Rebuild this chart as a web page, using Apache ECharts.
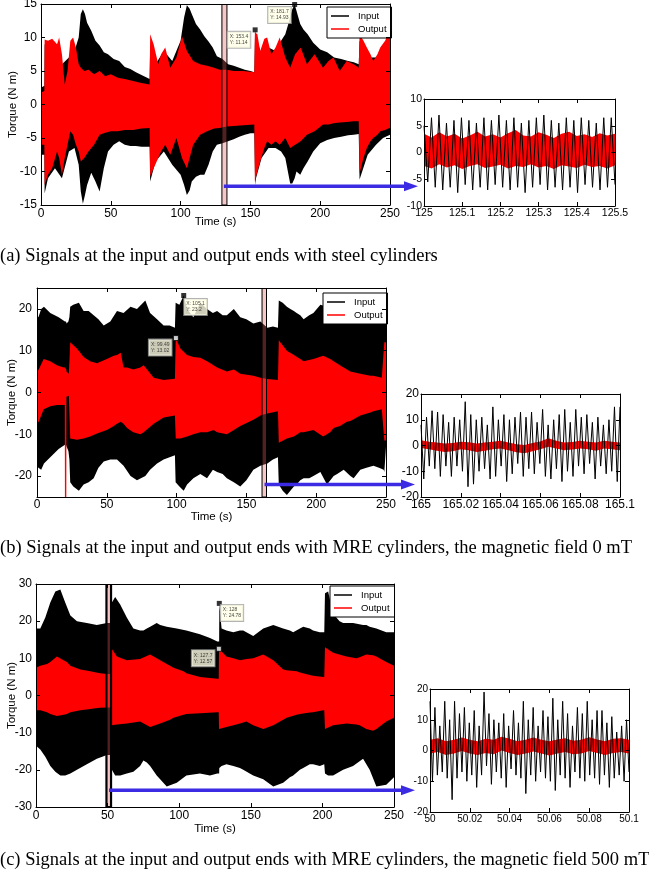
<!DOCTYPE html>
<html>
<head>
<meta charset="utf-8">
<script src="https://cdn.jsdelivr.net/npm/echarts@6/dist/echarts.min.js"></script>
<style>
html,body{margin:0;padding:0;background:#fff}
#main{width:649px;height:872px}
</style>
</head>
<body>
<div id="main"></div>
<script>
// ---- (a) steel cylinders : envelopes of the dense signals ----
const aInT  = [0,2.4,2.6,5,10,15,20,24,27,28.5,30,31.5,33,36,39,42,45,48,52,56,60,64,68,72,76,77.8,78.2,82,88,94,100,102.5,104.5,106.5,108,111,114,117,120,123,126,130,134,138,142,146,150,152.8,153.4,154,158,163,168,172,175,178.5,180,181.7,183,185.7,188,191,195,200,205,210,215,220,224,227.6,228.2,234,240,245,250];
const aInHi = [2.5,2.8,9,8.5,8.5,6,7,8,10,13.5,14.2,13.5,12.2,11,9.5,8.8,7.8,7.5,6.8,6.5,5.6,5.3,4.8,4.4,4,3.8,9,6,8,6.5,9.5,13,14.8,14.3,13.5,12,11.2,10.2,9.4,8.5,7.2,6.8,6,5.8,5.5,5.2,5,4.8,11.14,10,7.5,8.5,8,9.5,10.5,13,14.2,14.93,14,12,11.2,10.5,9.2,8.2,7.8,7,6.8,6.5,6.3,6,9.5,7,7,8,9];
const aInLo = [-7.5,-7.5,-13.3,-11,-9.5,-11,-7,-6.5,-9,-13,-14.8,-13.5,-12,-10.2,-11.5,-13,-9.5,-7,-6,-5.5,-6,-6.2,-6.2,-6.3,-6.3,-6.3,-11.5,-8.5,-7,-9,-10.5,-12,-13.5,-12.8,-11.5,-10.8,-10.5,-10.5,-9,-7,-6,-5.8,-5.5,-5.2,-4.8,-4.5,-4.3,-4.3,-12,-11,-8,-6.5,-6.5,-7,-8,-11.8,-11.8,-11,-10,-10.5,-9.5,-8.5,-7,-5.8,-5.3,-5,-4.8,-4.6,-4.5,-4.4,-11.2,-7.5,-6,-5,-4.5];
const aOutT  = [0,2.4,2.6,5,8,11.5,13,15,17,19,21,23,25,27,28.5,31,34,38,42,46,50,55,60,66,72,77.8,78.2,80.7,84,86,89,92.6,97,101,104.5,109,114,119,124,128,133,138,145,152.8,153.2,155,157,160,162,165,168,171,175,178.5,182,186,190.5,196,202,206,209.5,214,219,224,227.6,228.2,231,233.4,236,238,241,243,246.5,249.6,250];
const aOutHi = [1.8,2,9.7,9.5,9.8,9,10,7.5,3,5,9.5,10,8.5,6,5.5,5,5.2,4.5,5,4.2,4.5,4,3.8,3.5,3.2,3,10.5,9,6,7.5,8.5,5.5,7,10.2,8,6.5,6,5.8,5.5,5.2,5.2,5,5,4.8,10.8,10.5,8,9.8,10,7.5,8.5,10,7,5.5,7.5,8.5,6,7.5,5.5,6.5,7,5,6.5,6,5.5,10.5,9.5,8.5,7.5,6.5,7.5,8.5,9.5,11,10.5];
const aOutLo = [-6,-6,-12,-10.5,-9.5,-7,-8,-10.5,-8,-6,-4,-4.5,-6,-7,-8.5,-8,-7,-6,-4.5,-4.2,-4,-4,-3.8,-3.8,-3.6,-3.5,-10.7,-9.5,-8,-7,-6,-7.5,-5,-8,-9.5,-6,-4.5,-4,-3.6,-3.5,-3.3,-3.2,-3.1,-3,-11.5,-10,-8.5,-6.5,-5.5,-6,-5.5,-6,-5,-6.5,-6,-5.5,-4.5,-4,-3,-3,-2.8,-2.7,-2.6,-2.5,-2.5,-10.3,-8,-6.5,-5.5,-5,-4.5,-4,-3.8,-3.5,-3.5];

// ---- (b) MRE cylinders, 0 mT ----
const bInT  = [0,1,3,5,9.5,15.5,20,20.8,21.2,22.5,23.2,23.8,26,30,33.4,37,40.6,44,47.8,52.5,57.3,62,67,71.6,77.6,81,86,90.7,95,98.8,99.3,102,105.1,107.5,112,117,121.8,126,129,133,136,141,145.6,150,155,160,165,169,172.6,173.2,176,179,181.5,184,186,188.6,191,195,198,203,207.7,209,212.5,215,219.7,224.5,226.8,231.6,236,241,245,248.3,248.8,250];
const bInHi = [18.5,18,20,20.5,19,18,17,17,16.5,17,18,20.5,21,21.5,19.5,19.5,18.5,17.5,16,17,19.5,19,20.5,20,22,19,17.5,16,16,15.5,21.5,21,23.2,20,18,21.5,20,19,19.5,18.5,18.5,20,18,17.5,16.5,17,15.5,15.8,15.5,22,21.5,20.5,20,19.5,19,18.5,17.5,18.5,19,21,20.5,20,19.5,19,18.5,18,18,17,17.5,18.5,18,18,22,22];
const bInLo = [-17.5,-18,-18.5,-17,-15.5,-13.5,-12.5,-12.5,-13,-14,-16,-21.5,-22.5,-23.5,-22,-21.5,-20.5,-18,-16.5,-16,-16,-17.5,-20,-21,-20,-18.5,-17,-16,-15.5,-15,-21.5,-22.5,-23.5,-22,-20.5,-19.5,-20.5,-18.5,-19,-19.5,-20.5,-21.5,-22.5,-21,-18.5,-17.5,-17,-16,-15.5,-22,-23.5,-24.5,-23.5,-22.5,-22,-21,-20.5,-20.5,-20,-19,-22,-21.5,-20,-19.5,-18.5,-20,-20.5,-18.5,-18,-17.5,-18,-18.5,-19,-13];
const bOutT  = [0,1.2,4.8,9.5,14.3,19,19.9,20,21,21.1,22.8,23.3,23.8,28.6,33.4,38,43,50,55,57.3,60,62,64.5,69,74,76.4,83.6,90.7,98.8,99.4,102.7,107.5,112,117,121.8,126.5,129,136,141,145.6,155,160,165,172.6,173.2,179,184,188.6,191,198,205,210,212.5,217,222,224.5,231.6,238.8,241,247,248.8,250];
const bOutHi = [5,5.5,8,7.5,6.5,6,6,6,5.5,5,4.5,8,12,10.5,8.5,7.5,7,8,8.8,9,9.5,6,6,5.5,6,6.5,3.5,3,3.3,13.02,10.5,9,8.5,8.3,7.5,6.5,6,5,5.5,4.5,4,3.5,3.2,3,12.5,10,9,8,7.5,8,8.8,8,7.5,6.5,5.5,5,4.5,4,4,3.5,12,12];
const bOutLo = [-7.5,-7,-4,-3.3,-3,-3,-3,-25,-25,-1,-0.8,-6,-11,-11.3,-11,-10.5,-9.8,-9,-8,-7.5,-7,-7.5,-8.5,-9.5,-10,-9.5,-7.5,-6,-5.5,-11,-11,-10.5,-10,-9.5,-9.5,-9,-9.5,-10,-9,-8,-6.5,-5.5,-5,-4.5,-12,-11,-10.5,-9.5,-9.5,-9,-10.5,-9.5,-8.5,-8,-7,-6.8,-5.5,-4.8,-4.5,-4,-11.5,-11.5];

// ---- (c) MRE cylinders, 500 mT ----
const cInT  = [0,3,6.5,10,13.5,17,20.4,24,28.6,35.5,42.5,49.5,52.5,53,55.3,58.8,63.4,68,72.7,75,77.4,79.7,84.3,86.7,91.3,98.3,105,114.5,121.5,126.6,127.9,128,129.6,133,137.8,142.4,144.7,151.7,158.7,165.7,172.6,177.3,179.6,184.3,186.6,191.2,193.5,198.2,201.3,201.8,204,207.5,212,214.5,221.4,228.4,230.7,233,237.7,244.6,250];
const cInHi = [18,18,21,25,28,28.5,25,21.5,20,19.5,19,19.5,19.5,25,26.5,24.5,21,18,17.5,17.5,18,18.5,19.5,19,18.5,18,17.5,16.5,15.5,14.5,14.5,24.78,18,17.5,17,17.5,17.5,16,18,19,18,17.5,17,18,18.5,18,17.5,17,17,27.5,28,22,20,19.5,19.5,19,19,18.5,18,17,17];
const cInLo = [-13.5,-14.5,-16.5,-19,-20.5,-21.5,-21.5,-21,-20,-18.5,-17,-16,-16,-20,-21.5,-21.5,-21,-20.5,-19,-17.5,-18,-19,-21.5,-22.5,-24.5,-23.5,-21.5,-21,-21.5,-21,-21,-19.5,-19,-18.5,-19,-19.5,-20,-21.5,-22.5,-24.5,-23.5,-22,-21.5,-20,-19.5,-18.5,-18.5,-19,-18.5,-21,-21.5,-21.5,-20.5,-20,-19,-17,-18.5,-20,-24.5,-24,-22];
const cOutT  = [0,3,7.7,10,14.6,19.3,21.6,24,31,38,40.2,44.8,49.5,52.5,53,56.5,63.4,72.7,79.7,86.7,93.6,96,103,105,114.5,126.6,127.6,127.8,133,137.8,142.4,147,151.7,158.7,165.7,172.6,175,182,184.3,191.2,193.5,200.5,201.3,201.8,207.5,216.8,223.7,226,230.7,235.4,237.7,244.6,250];
const cOutHi = [7.5,8,8.5,9,10.5,9.5,9,8,7,6.5,6.3,6,5.8,5.8,12.5,10.5,9.5,9.8,11,9.5,8,7.5,6.5,6,5,4.5,4.5,12.57,10.5,10,9.5,9.8,10,11,9.5,7,6.8,6.5,6.2,5.5,5.3,5,5,13,11.5,10.5,10,10.3,11,10.8,10.5,9,8];
const cOutLo = [-4,-4,-4.5,-5,-5.5,-5.2,-5,-4.5,-4,-3.6,-3.5,-3.3,-3.2,-3.2,-8,-7.8,-7.5,-7,-8.5,-7.5,-6.5,-6,-5.2,-5,-4.8,-4.5,-4.5,-9,-8.5,-8,-7.5,-7,-8,-9,-8,-6.5,-6,-5.2,-5,-4.6,-4.5,-4,-4,-9,-8,-7.5,-7.8,-8,-9,-9.5,-9,-7,-6];

// ---- zoomed windows (uniform sampling, alternating peaks) ----
const zaStart = 125,   zaStep = 0.5/51;
const zaIn  = [5,-5.5,6.5,-6.5,7,-7,5.5,-6.5,6,-7.5,6.5,-6,6,-7,5.5,-6.5,6.5,-7,6,-6,7,-6.5,6,-7,6.5,-6.5,5.5,-7.5,6,-6.5,6.5,-6,7,-7,6,-6.5,5.5,-7,6.5,-6.5,6,-7.5,6.5,-6,6,-6.5,5.5,-7,6.5,-6.5,6.5,-6];
const zaOutStep = 0.02;
const zaOutHi = [3.5,2.8,3.8,3,3.5,2.6,3.2,3.9,3,3.4,2.8,3.6,4.2,3.2,3,3.8,3.3,2.7,3.5,3.9,3.1,3.4,2.9,3.6,3.2,3.5];
const zaOutLo = [-2.5,-3,-2.2,-2.8,-2.4,-3.1,-2.5,-2.2,-2.9,-2.6,-2.3,-3,-2.5,-2.7,-2.2,-2.8,-2.5,-3.1,-2.4,-2.6,-2.9,-2.3,-2.7,-2.5,-3,-2.4];

const zbStart = 165,   zbStep = 0.1/72;
const zbIn  = [8,-13,11,-8,13.5,-9,13,-12,12,-8,9,-12,11,-8,10,-10,17,-16,12,-15,10,-10,11,-9,8,-13,15,-12,10,-8,12,-14,10,-11,11,-7,13,-12,11,-9,13,-11,9,-7,14,-12,8,-13,10,-9,12,-14,14,-10,9,-12,14,-8,11,-11,12,-7,9,-13,11,-8,8,-11,10,-10,15,-14,15];
const zbOutStep = 0.004;
const zbOutHi = [2,1.5,1.2,0.8,1,1.5,1.3,0.8,1.2,1.5,1.8,1.2,0.5,0.2,1,1.6,2.8,1.8,1.2,1.4,1.8,1.5,1.2,1.8,1.5,1.2];
const zbOutLo = [-1,-1.5,-2,-2.5,-2.2,-1.5,-1.8,-2.5,-2,-1.5,-1.2,-1.8,-2.6,-3,-2.2,-1.5,-0.5,-1.2,-1.8,-1.6,-1.2,-1.5,-2,-1.2,-1.5,-1.8];

const zcStart = 50,    zcStep = 0.1/81;
const zcIn  = [16,-10,14,-8,8,-7,16,-9,10,-16,16,-9,12,-7,14,-10,9,-8,13,-12,8,-8,19,-5,12,-11,10,-7,9,-9,12,-12,8,-6,13,-8,9,-9,16,-14,10,-8,14,-10,8,-7,13,-9,11,-10,17,-13,10,-8,16,-9,12,-12,8,-7,14,-9,12,-10,16,-8,10,-9,13,-11,13,-8,9,-12,11,-9,6,-8,8,-10,10,-7];
const zcOutStep = 0.004;
const zcOutHi = [3.5,4,3,3.5,4.2,3.5,3,3.8,3.5,4.5,3.8,3,3.5,4.2,3.5,3,3.6,4,3.2,3.5,4.3,3.6,3,3.8,4,3.5];
const zcOutLo = [-1,-0.5,-1.5,-1,-0.2,-1,-1.5,-0.8,-1.2,0,-0.8,-1.5,-1,-0.3,-1,-1.6,-1,-0.5,-1.2,-1,-0.2,-0.8,-1.5,-0.8,-0.5,-1];

// selected windows and data tips
const selA = [129.6, 133.2], selB = [161.2, 164.4], selC = [49.2, 52.4];
const tipA = [[153.4, 11.14], [181.7, 14.93]];
const tipB = [[105.1, 23.2], [99.49, 13.02]];
const tipC = [[128, 24.78], [127.7, 12.57]];

const captions = [
  '(a) Signals at the input and output ends with steel cylinders',
  '(b) Signals at the input and output ends with MRE cylinders, the magnetic field 0 mT',
  '(c) Signals at the input and output ends with MRE cylinders, the magnetic field 500 mT'
];

var chart = echarts.init(document.getElementById('main'));
var grids = [], xAxes = [], yAxes = [], series = [];
var SANS = 'Liberation Sans';

function axisPair(list, gi, opt, isX, fontSize, margin) {
  var base = {
    gridIndex: gi, type: 'value', min: opt.min, max: opt.max, z: 10,
    axisLine: { show: true, onZero: false, lineStyle: { color: '#000', width: 1 } },
    axisTick: { show: true, inside: true, length: 4, lineStyle: { color: '#000' } },
    splitLine: { show: false }
  };
  if (opt.interval) base.interval = opt.interval;
  if (opt.ticks) base.axisTick.customValues = opt.ticks;
  var a = Object.assign({}, base, {
    position: isX ? 'bottom' : 'left',
    axisLabel: { color: '#000', fontSize: fontSize, fontFamily: SANS, margin: margin, hideOverlap: false },
    axisTick: Object.assign({}, base.axisTick)
  });
  if (opt.ticks) a.axisLabel.customValues = opt.ticks;
  if (opt.name) {
    a.name = opt.name; a.nameLocation = 'middle'; a.nameGap = opt.nameGap;
    a.nameMoveOverlap = false;
    a.nameTextStyle = { color: '#000', fontSize: 11.5, fontFamily: SANS };
  }
  var b = Object.assign({}, base, {
    position: isX ? 'top' : 'right',
    axisLabel: { show: false }
  });
  list.push(a, b);
}

function panel(rect, xo, yo, fs, xm, ym) {
  var gi = grids.length;
  grids.push({ left: rect[0], top: rect[1], width: rect[2], height: rect[3],
    containLabel: false, outerBoundsMode: 'none' });
  axisPair(xAxes, gi, xo, true, fs, xm);
  axisPair(yAxes, gi, yo, false, fs, ym);
  return gi * 2;
}

function band(name, color, ai, t, hi, lo) {
  return {
    type: 'custom', name: name, xAxisIndex: ai, yAxisIndex: ai, clip: true, silent: true,
    itemStyle: { color: color },
    data: t.map(function (v, k) { return [v, lo[k], hi[k]]; }),
    encode: { x: 0, y: [1, 2] },
    renderItem: function (params, api) {
      if (params.dataIndex !== 0) return;
      var top = t.map(function (v, k) { return api.coord([v, hi[k]]); });
      var bot = t.map(function (v, k) { return api.coord([v, lo[k]]); }).reverse();
      return { type: 'polygon', shape: { points: top.concat(bot) }, style: { fill: color } };
    }
  };
}

function sampled(start, step, vals) {
  return vals.map(function (v, k) { return [start + k * step, v]; });
}

function selection(ai, range, ymin, ymax, bw) {
  return {
    type: 'custom', xAxisIndex: ai, yAxisIndex: ai, silent: true, clip: true,
    data: [[range[0], range[1]]],
    renderItem: function (params, api) {
      var p0 = api.coord([api.value(0), ymax]);
      var p1 = api.coord([api.value(1), ymin]);
      return { type: 'rect', shape: { x: p0[0], y: p0[1], width: p1[0] - p0[0], height: p1[1] - p0[1] },
        style: { fill: 'rgba(225,95,95,0.35)', stroke: '#000', lineWidth: bw } };
    }
  };
}

function tips(ai, pts, hollow, offsets) {
  return pts.map(function (p, k) {
    return {
      type: 'scatter', xAxisIndex: ai, yAxisIndex: ai, silent: true, z: 6,
      symbol: 'rect', symbolSize: 5,
      itemStyle: hollow[k] ? { color: '#fff', borderColor: '#000', borderWidth: 1 } : { color: '#000' },
      data: [p],
      label: {
        show: true, position: offsets[k],
        formatter: 'X: ' + p[0] + '\nY: ' + p[1],
        fontSize: 5, lineHeight: 6, fontFamily: SANS, color: '#111',
        backgroundColor: '#ffffe6', borderColor: '#a0a0a0', borderWidth: 1, padding: [2, 2]
      }
    };
  });
}

// (a)
var A = panel([41, 4, 349, 201], { min: 0, max: 250, interval: 50, name: 'Time (s)', nameGap: 11 },
  { min: -15, max: 15, interval: 5, name: 'Torque (N m)', nameGap: 22 }, 12, 3, 4);
var ZA = panel([424, 99, 191, 107], { min: 125, max: 125.5, interval: 0.1 },
  { min: -10, max: 10, interval: 5 }, 10.5, 2, 2);
// (b)
var B = panel([37, 288, 349, 209], { min: 0, max: 250, interval: 50, name: 'Time (s)', nameGap: 14 },
  { min: -25, max: 25, ticks: [-20, -10, 0, 10, 20], name: 'Torque (N m)', nameGap: 19 }, 12, 2, 5);
var ZB = panel([421, 394, 199, 103], { min: 165, max: 165.1, interval: 0.02 },
  { min: -20, max: 20, interval: 10 }, 12, 2, 2);
// (c)
var C = panel([36, 584, 358, 223], { min: 0, max: 250, interval: 50, name: 'Time (s)', nameGap: 16 },
  { min: -30, max: 30, interval: 10, name: 'Torque (N m)', nameGap: 18 }, 12, 3, 4);
var ZC = panel([430, 689, 199, 123], { min: 50, max: 50.1, interval: 0.02 },
  { min: -20, max: 20, interval: 10 }, 10, 2, 2);

series.push(
  band('Input', '#000', A, aInT, aInHi, aInLo),
  band('Output', '#ff0000', A, aOutT, aOutHi, aOutLo),
  selection(A, selA, -15, 15, 1),
  band('Input', '#000', B, bInT, bInHi, bInLo),
  band('Output', '#ff0000', B, bOutT, bOutHi, bOutLo),
  selection(B, selB, -25, 25, 1),
  band('Input', '#000', C, cInT, cInHi, cInLo),
  band('Output', '#ff0000', C, cOutT, cOutHi, cOutLo),
  selection(C, selC, -30, 30, 2.2)
);
series = series.concat(
  tips(A, tipA, [false, false], [[-25, 4.5], [-24, 5]]),
  tips(B, tipB, [false, true], [[3, 6], [-24, 4.5]]),
  tips(C, tipC, [false, true], [[4, 4], [-24, 4.5]])
);

function zoomLine(ai, start, step, vals) {
  return { type: 'line', name: 'Input', xAxisIndex: ai, yAxisIndex: ai, showSymbol: false, silent: true,
    data: sampled(start, step, vals), lineStyle: { color: '#000', width: 1 }, itemStyle: { color: '#000' } };
}
function zoomBand(ai, start, step, hi, lo) {
  var t = hi.map(function (v, k) { return start + k * step; });
  return band('Output', '#ff0000', ai, t, hi, lo);
}
series.push(
  zoomLine(ZA, zaStart, zaStep, zaIn), zoomBand(ZA, zaStart, zaOutStep, zaOutHi, zaOutLo),
  zoomLine(ZB, zbStart, zbStep, zbIn), zoomBand(ZB, zbStart, zbOutStep, zbOutHi, zbOutLo),
  zoomLine(ZC, zcStart, zcStep, zcIn), zoomBand(ZC, zcStart, zcOutStep, zcOutHi, zcOutLo)
);

function legendAt(left, top) {
  return {
    left: left, top: top, orient: 'vertical', icon: 'rect', itemWidth: 18, itemHeight: 1.5, itemGap: 3,
    padding: [4, 5, 4, 4], borderColor: '#000', borderWidth: 1, backgroundColor: '#fff', selectedMode: false,
    textStyle: { fontSize: 9.5, fontFamily: SANS, color: '#000', padding: [0, 0, 0, 4] },
    data: [{ name: 'Input', itemStyle: { color: '#000' } }, { name: 'Output', itemStyle: { color: '#ff0000' } }]
  };
}

var capStyle = { fontFamily: 'Liberation Serif', fontSize: 18.5, fontWeight: 'normal', color: '#000' };

chart.setOption({
  animation: false,
  backgroundColor: '#fff',
  title: [
    { text: captions[0], left: 0, top: 247, padding: 0, textStyle: capStyle },
    { text: captions[1], left: 0, top: 539, padding: 0, textStyle: capStyle },
    { text: captions[2], left: 0, top: 851, padding: 0, textStyle: capStyle }
  ],
  legend: [legendAt(327, 7), legendAt(323, 293), legendAt(330, 586)],
  grid: grids,
  xAxis: xAxes,
  yAxis: yAxes,
  series: series
});

// blue arrows from the selected window to the zoomed plot
var arrows = [
  { grid: 0, from: [131, -12.2], toX: 418 },
  { grid: 2, from: [163, -22], toX: 415 },
  { grid: 4, from: [51, -25.5], toX: 415 }
];
var g = [];
arrows.forEach(function (a) {
  var p = chart.convertToPixel({ gridIndex: a.grid }, a.from);
  var y = p[1];
  g.push({ type: 'line', z: 100, shape: { x1: p[0], y1: y, x2: a.toX - 10, y2: y },
    style: { stroke: '#3b2be3', lineWidth: 3.5 } });
  g.push({ type: 'polygon', z: 100, shape: { points: [[a.toX - 14, y - 5], [a.toX, y], [a.toX - 14, y + 5]] },
    style: { fill: '#3b2be3' } });
});
chart.setOption({ graphic: g });
</script>
</body>
</html>
